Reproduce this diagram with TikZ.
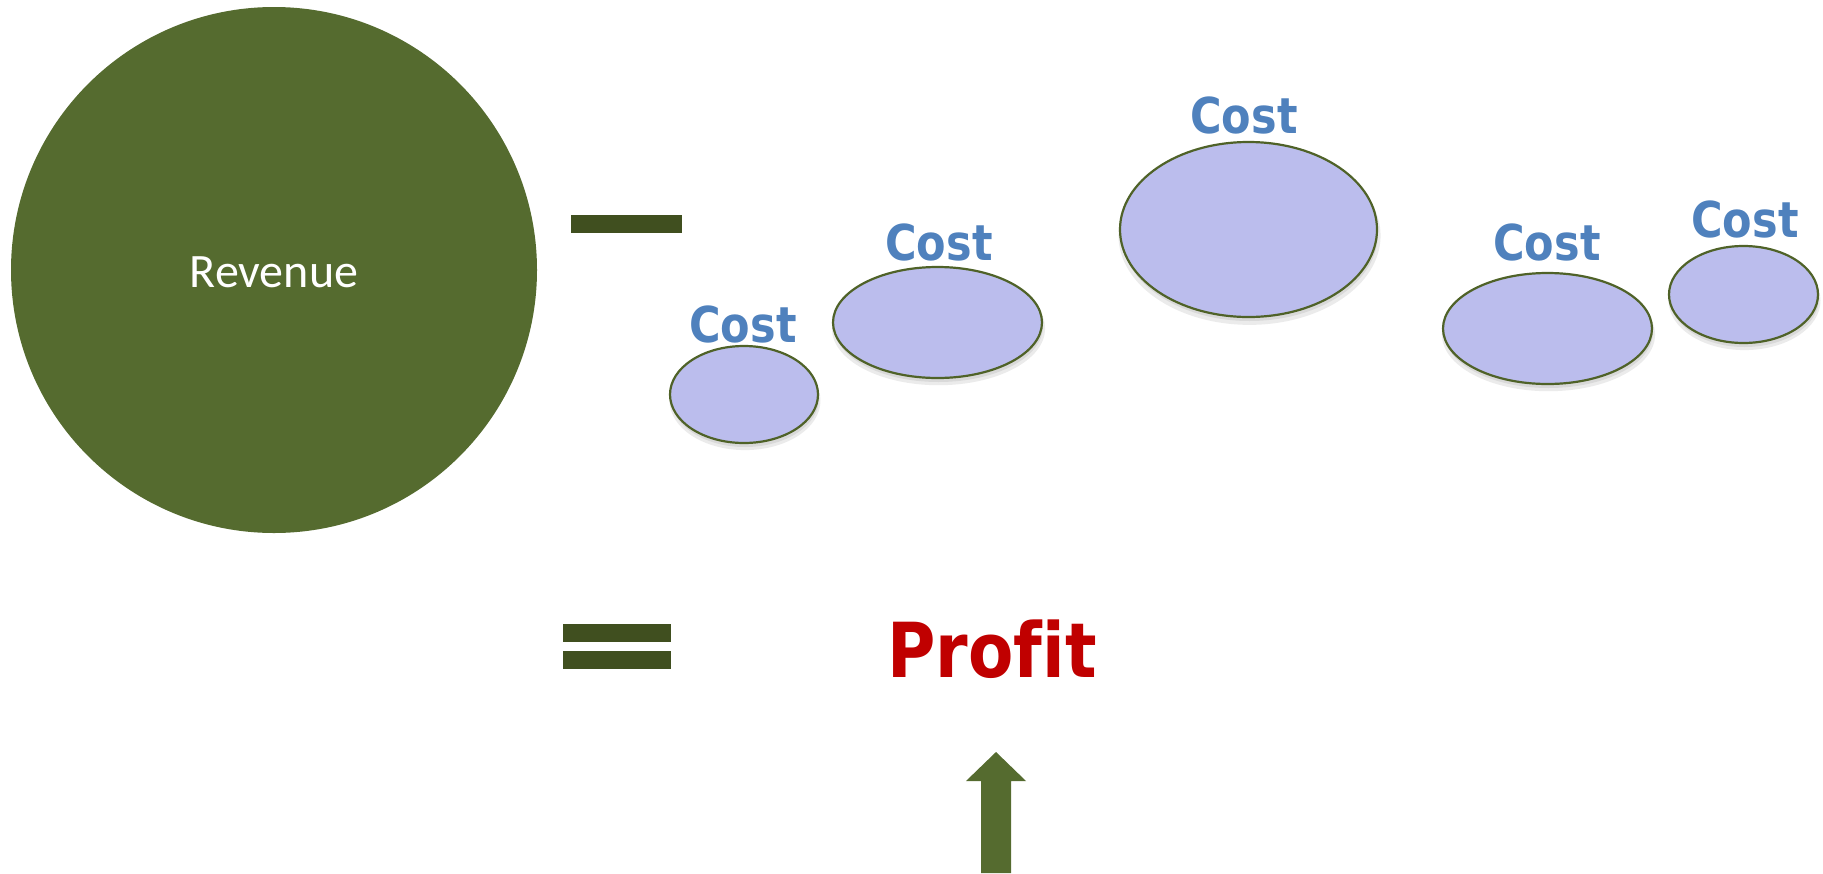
\documentclass[tikz,border=0pt]{standalone}
\usepackage{fontspec}
\usepackage{graphicx}
\usetikzlibrary{shadows,shapes.geometric}
\newfontfamily\costfont{DejaVu Sans}[Ligatures=NoCommon]
\newfontfamily\revfont{Carlito}
\definecolor{olive}{HTML}{556B2F}
\definecolor{darkolive}{HTML}{404F1F}
\definecolor{costblue}{HTML}{4F81BD}
\definecolor{profitred}{HTML}{C00000}
\definecolor{lavender}{HTML}{BBBDED}
\definecolor{edgeolive}{HTML}{4F6228}
\tikzset{
  costell/.style={ellipse, draw=edgeolive, line width=2.2pt, fill=lavender,
    inner sep=0pt, minimum width=2*#1,
    drop shadow={shadow xshift=1pt, shadow yshift=-6pt, opacity=0.08, fill=black, draw=none, shadow scale=1.02},
    drop shadow={shadow xshift=1pt, shadow yshift=-4pt, opacity=0.08, fill=black, draw=none}},
  costlbl/.style={anchor=base, inner sep=0pt, text=costblue,
    font=\costfont\bfseries\fontsize{43}{43}\selectfont},
  bar/.style={fill=darkolive, draw=none}
}
\begin{document}
\begin{tikzpicture}[x=1pt,y=-1pt]
\useasboundingbox (0,0) rectangle (1823,873);
% Revenue circle
\node[circle, fill=olive, minimum size=526pt, inner sep=0pt] (rev) at (274,270) {};
\node[anchor=base, inner sep=0pt, text=white, font=\revfont\fontsize{48}{48}\selectfont] (revtxt) at (274,287) {Revenue};
% minus
\path[bar] (571,215) rectangle (682,233);
% equals
\path[bar] (563,624) rectangle (671,642);
\path[bar] (563,651) rectangle (671,669);
% cost ellipses
\node[costell=74pt, minimum height=97pt] (e1) at (744,394.5) {};
\node[costell=104.5pt, minimum height=111pt] (e2) at (937.5,322.5) {};
\node[costell=128.5pt, minimum height=175pt] (e3) at (1248.5,229.5) {};
\node[costell=104.5pt, minimum height=111pt] (e4) at (1547.5,328.5) {};
\node[costell=74.5pt, minimum height=97pt] (e5) at (1743.5,294.5) {};
% cost labels
\node[costlbl] (c1) at (743,342) {\scalebox{1}[1.15]{Cost}};
\node[costlbl] (c2) at (939,260) {\scalebox{1}[1.15]{Cost}};
\node[costlbl] (c3) at (1244,133) {\scalebox{1}[1.15]{Cost}};
\node[costlbl] (c4) at (1547,260) {\scalebox{1}[1.15]{Cost}};
\node[costlbl] (c5) at (1745,237) {\scalebox{1}[1.15]{Cost}};
% profit
\node[anchor=base, inner sep=0pt, text=profitred, font=\costfont\bfseries\fontsize{66}{66}\selectfont] (profit) at (992,677) {\scalebox{1}[1.15]{Profit}};
% arrow
\fill[olive] (996,752) -- (1026,781) -- (1011,781) -- (1011,873) -- (981,873) -- (981,781) -- (966,781) -- cycle;
\end{tikzpicture}
\end{document}
